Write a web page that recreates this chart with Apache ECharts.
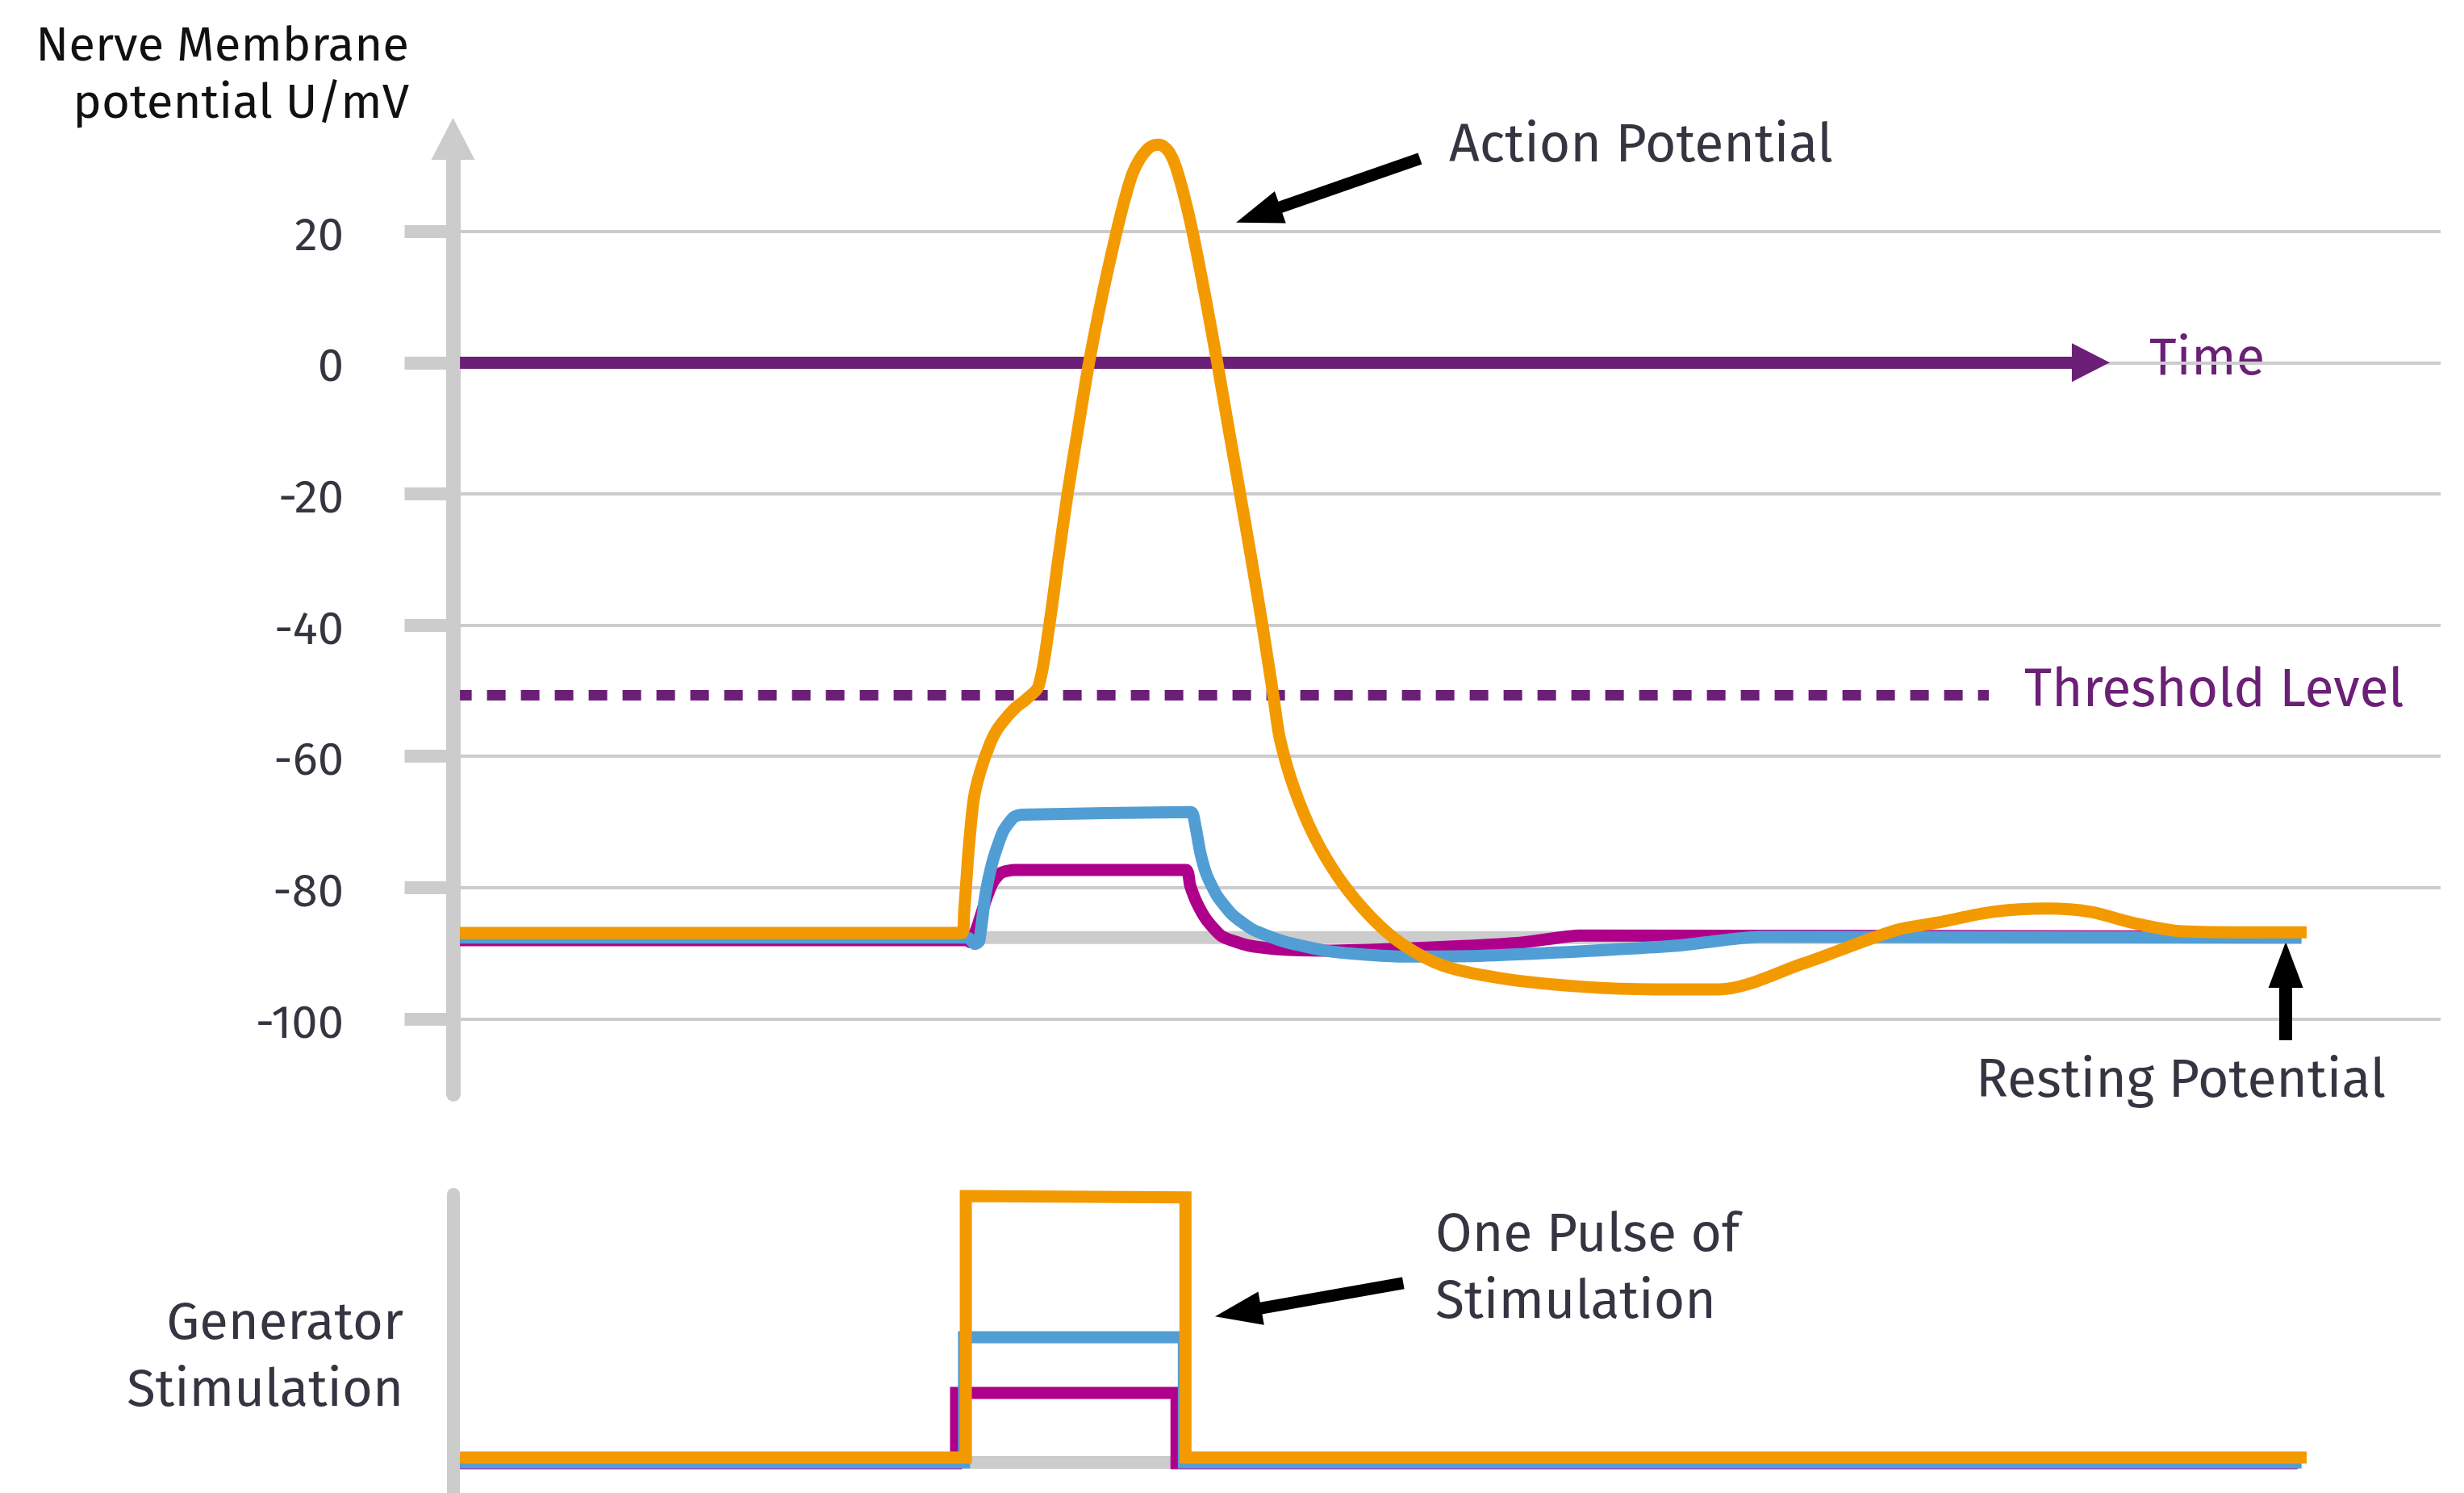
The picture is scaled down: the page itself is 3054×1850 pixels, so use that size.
<!DOCTYPE html>
<html>
<head>
<meta charset="utf-8">
<script src="https://cdn.jsdelivr.net/npm/echarts@6/dist/echarts.min.js"></script>
<style>
html,body{margin:0;padding:0;background:#fff;}
#chart{width:3054px;height:1850px;}
</style>
</head>
<body>
<div id="chart"></div>
<script>
// ---- data (time in arbitrary units 0..100, potential in mV) ----
const yTicks = [-100, -80, -60, -40, -20, 0, 20];
const restingLevel = -87.6;
const thresholdLevel = -50.7;

const apOrange = [
  [0.35,-86.9],[25.6,-86.9],[25.72,-83.5],[25.85,-78],[25.95,-73.9],[26.2,-66.5],[26.52,-62.4],
  [27.04,-57.9],[27.4,-55.8],[27.81,-54.2],[28.3,-52.6],[28.84,-51.3],[29.46,-49.3],
  [30.0,-40],[30.45,-30],[30.92,-20],[31.45,-10],[32.0,0],[32.65,10],[33.39,20],[33.85,25.5],
  [34.2,28.9],[34.55,31.0],[34.9,32.4],[35.2,33.05],[35.48,33.2],[35.75,32.95],[36.05,32.0],
  [36.35,30.0],[36.75,25.8],[37.2,20],
  [37.85,10],[38.45,0],[39.02,-10],[39.6,-20],[40.17,-30],[40.72,-40],[41.27,-50.7],[41.6,-57.3],
  [42.31,-64.8],[43.33,-72.2],[44.63,-78.8],[46.19,-84.5],[47.75,-88.6],[49.82,-91.9],
  [52.91,-93.9],[56.81,-95.1],[60.5,-95.5],[63.71,-95.5],[67.9,-91.6],[72.58,-86.5],
  [74.75,-85.3],[77.47,-83.7],[80.21,-83.2],[82.38,-83.7],[84.57,-85.4],[86.77,-86.6],
  [89.77,-86.8],[93.26,-86.8]
];
const gpBlue = [
  [0.35,-87.6],[25.9,-87.6],[26.25,-88.6],[26.47,-88.2],[26.78,-81.2],[27.16,-75.9],[27.68,-71.4],
  [28.2,-69.3],[28.59,-68.9],[37.13,-68.5],[37.35,-70.6],[37.6,-74.7],[37.91,-78.0],[38.43,-81.2],
  [39.2,-84.1],[40.24,-86.4],[41.79,-88.2],[43.86,-89.6],[45.8,-90.2],[47.75,-90.5],[51.63,-90.4],
  [55.51,-89.9],[61.72,-88.8],[65.76,-87.5],[93.0,-87.6]
];
const gpMagenta = [
  [0.35,-88.0],[25.9,-88.0],[26.0,-88.3],[26.35,-86.2],[26.78,-82.1],[27.16,-79.2],[27.55,-77.8],
  [28.2,-77.3],[36.88,-77.3],[37.08,-79.6],[37.39,-82.1],[37.91,-84.9],[38.68,-87.4],[39.98,-88.8],
  [41.53,-89.4],[43.86,-89.6],[47.75,-89.3],[53.68,-88.4],[56.68,-87.3],[92.8,-87.5]
];
const restLine = [[0.35,-87.6],[93.0,-87.6]];

// stimulation pulses (arbitrary amplitude units)
const stimOrange  = [[0.35,0.18],[25.8,0.18],[25.8,10.0],[36.85,9.95],[36.85,0.18],[93.26,0.18]];
const stimBlue    = [[0.35,0],[25.71,0],[25.71,4.7],[36.77,4.7],[36.77,0],[93.0,0]];
const stimMagenta = [[0.35,-0.03],[25.31,-0.03],[25.31,2.61],[36.4,2.61],[36.4,-0.03],[92.8,-0.03]];
const stimRest    = [[0.35,0],[93.0,0]];

// annotation arrows [from, to]
const arrowAction  = [[48.65,31.09],[40.51,22.51]];
const arrowResting = [[92.21,-103.26],[92.21,-91.76]];
const arrowPulse   = [[47.81,6.73],[39.5,5.63]];
const timeArrow    = [[0.35,0],[82.4,0]];
const thresholdSpan = [0.35, 77.27];

// ---- styles ----
const FONT = "'Fira Sans','Noto Sans',sans-serif";
const C_OR = '#F39A00', C_BL = '#519ED5', C_MG = '#AF008B', C_PU = '#6B1F76', C_GR = '#cccccc', C_TX = '#353542';

function lineSeries(data, color, width, xi, z, smooth) {
  return {
    type: 'line', xAxisIndex: xi, yAxisIndex: xi, data: data, symbol: 'none', z: z,
    smooth: smooth || false,
    silent: true, lineStyle: {color: color, width: width, cap: 'butt', join: smooth ? 'round' : 'miter'}
  };
}
function arrowML(seg, headW, headL) {
  return [{coord: seg[0], symbol: 'none'}, {coord: seg[1], symbol: 'triangle', symbolSize: [headW, headL]}];
}
function txt(x, y, text, size, color, align) {
  return {type: 'text', x: x, y: y, silent: true,
    style: {text: text, fontSize: size, fontFamily: FONT, fill: color, align: align, verticalAlign: 'middle'}};
}

const chart = echarts.init(document.getElementById('chart'), null, {renderer: 'canvas'});
const opt = {
  animation: false,
  backgroundColor: '#ffffff',
  grid: [
    {left: 561.5, right: 29, top: 172, height: 1184},
    {left: 561.5, right: 29, top: 1480, height: 370}
  ],
  xAxis: [
    {type: 'value', gridIndex: 0, min: 0, max: 100, show: false},
    {type: 'value', gridIndex: 1, min: 0, max: 100, show: false}
  ],
  yAxis: [
    {
      type: 'value', gridIndex: 0, min: -111.5, max: 34.1,
      axisLine: {show: true, symbol: ['none', 'triangle'], symbolSize: [54, 52],
        lineStyle: {color: C_GR, width: 18}},
      axisTick: {show: true, length: 60, customValues: yTicks, lineStyle: {color: C_GR, width: 16}},
      axisLabel: {show: true, customValues: yTicks, margin: 135.5, fontSize: 58,
        fontFamily: FONT, color: C_TX, verticalAlign: 'top', lineHeight: 14},
      splitLine: {show: true, lineStyle: {color: C_GR, width: 4}}
    },
    {
      type: 'value', gridIndex: 1, min: -1.15, max: 10.06,
      axisLine: {show: true, lineStyle: {color: C_GR, width: 16}},
      axisTick: {show: false}, axisLabel: {show: false}, splitLine: {show: false}
    }
  ],
  series: [
    {
      type: 'line', xAxisIndex: 0, yAxisIndex: 0, data: [], z: 2, silent: true,
      markLine: {
        silent: true, animation: false, label: {show: false}, emphasis: {disabled: true},
        data: [
          [{coord: timeArrow[0], symbol: 'none'},
           {coord: timeArrow[1], symbol: 'triangle', symbolSize: [48, 47],
            lineStyle: {color: C_PU, width: 15, type: 'solid'}}],
          [{coord: [thresholdSpan[0], thresholdLevel], symbol: 'none'},
           {coord: [thresholdSpan[1], thresholdLevel], symbol: 'none',
            lineStyle: {color: C_PU, width: 13, type: [23, 19], dashOffset: 8.5, cap: 'butt'}}]
        ],
        lineStyle: {color: C_PU, width: 15, type: 'solid', cap: 'butt'}
      }
    },
    lineSeries(restLine, C_GR, 16, 0, 3),
    lineSeries(gpMagenta, C_MG, 15, 0, 4, 0.2),
    lineSeries(gpBlue, C_BL, 15, 0, 5, 0.2),
    lineSeries(apOrange, C_OR, 15, 0, 6, 0.3),
    {
      type: 'line', xAxisIndex: 0, yAxisIndex: 0, data: [], z: 7, silent: true,
      markLine: {
        silent: true, animation: false, label: {show: false}, emphasis: {disabled: true},
        lineStyle: {color: '#000', width: 15, type: 'solid', cap: 'butt'},
        data: [
          arrowML(arrowAction, 42, 58),
          [{coord: arrowResting[0], symbol: 'none'},
           {coord: arrowResting[1], symbol: 'triangle', symbolSize: [43, 57], lineStyle: {width: 16}}]
        ]
      }
    },
    lineSeries(stimRest, C_GR, 16, 1, 3),
    lineSeries(stimMagenta, C_MG, 15, 1, 4),
    lineSeries(stimBlue, C_BL, 15, 1, 5),
    lineSeries(stimOrange, C_OR, 15, 1, 6),
    {
      type: 'line', xAxisIndex: 1, yAxisIndex: 1, data: [], z: 7, silent: true,
      markLine: {
        silent: true, animation: false, label: {show: false}, emphasis: {disabled: true},
        lineStyle: {color: '#000', width: 15, type: 'solid', cap: 'butt'},
        data: [arrowML(arrowPulse, 42, 58)]
      }
    }
  ],
  graphic: [
    txt(507, 58, 'Nerve Membrane', 60, '#111', 'right'),
    txt(507, 129, 'potential U/mV', 60, '#111', 'right'),
    txt(1796, 182, 'Action Potential', 66, C_TX, 'left'),
    txt(2664, 446, 'Time', 65, C_PU, 'left'),
    txt(2509, 857, 'Threshold Level', 66, C_PU, 'left'),
    txt(2449, 1341, 'Resting Potential', 66, C_TX, 'left'),
    txt(500, 1641, 'Generator', 65, C_TX, 'right'),
    txt(500, 1724, 'Stimulation', 65, C_TX, 'right'),
    txt(1779, 1532, 'One Pulse of', 66, C_TX, 'left'),
    txt(1779, 1615, 'Stimulation', 66, C_TX, 'left')
  ]
};
chart.setOption(opt);
</script>
</body>
</html>
